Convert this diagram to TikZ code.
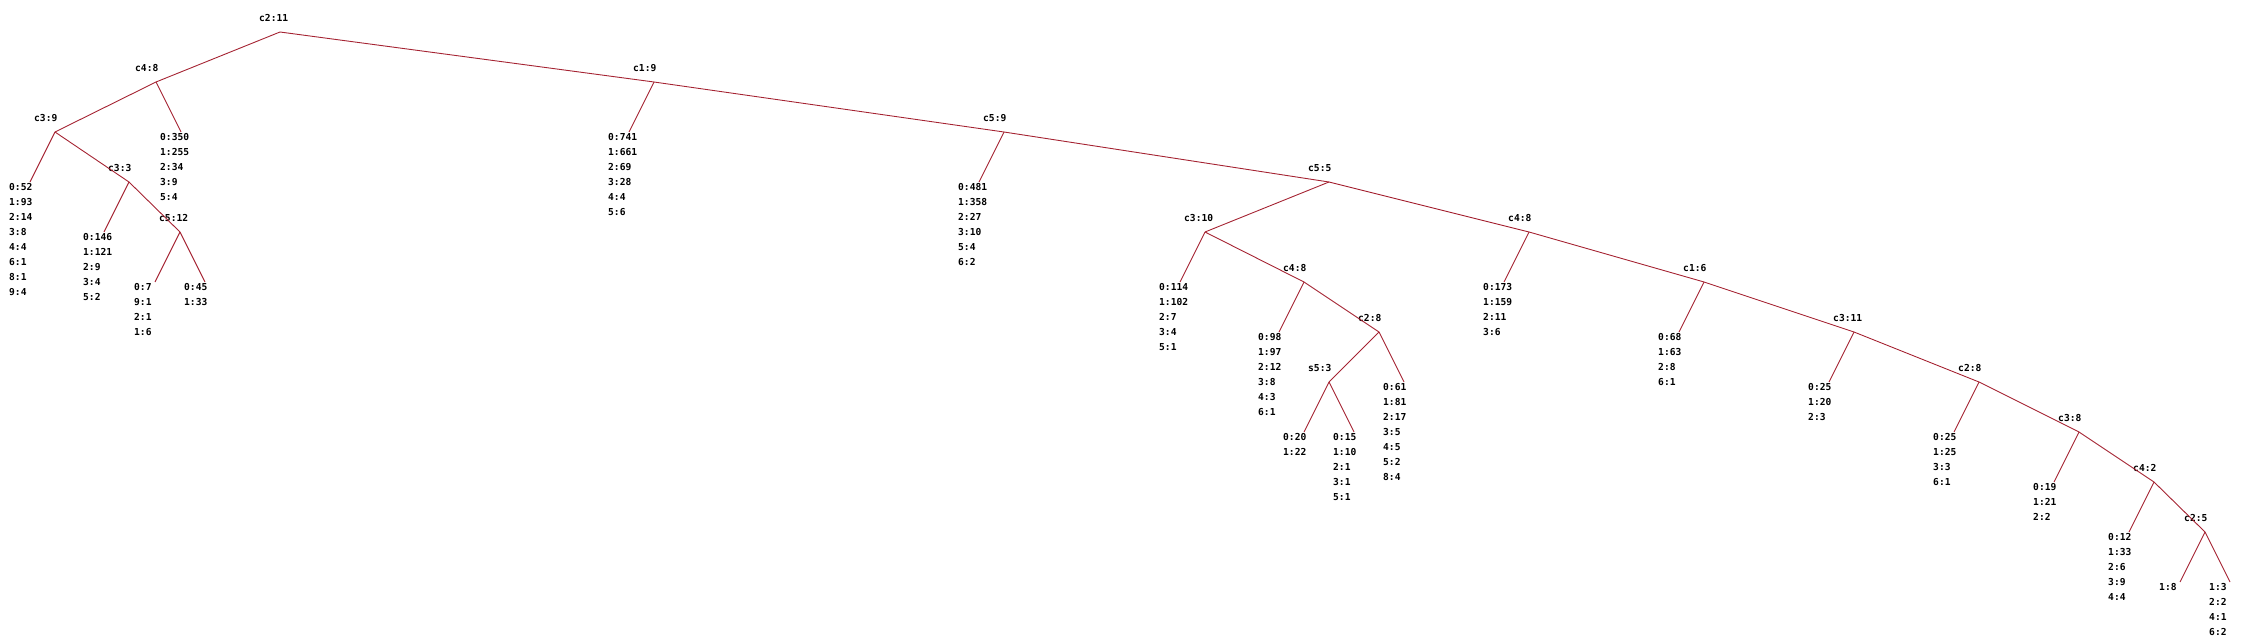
\documentclass[tikz,border=0pt]{standalone}
\usepackage{fontspec}
\newfontfamily\treefont{DejaVu Sans Mono}
\usetikzlibrary{calc,positioning}
\definecolor{treered}{RGB}{165,35,50}
\tikzstyle{lbl}=[inner sep=0pt,anchor=base west,font=\treefont\bfseries\fontsize{9.6}{12}\selectfont]
\tikzstyle{link}=[treered,line width=0.9pt]
% split point with its label above
\newcommand{\tsplit}[3]{
	\coordinate (#1) at (#2);
	\node[lbl] (#1-t) at ([shift={(-21,10.5)}]#1) {#3};
}
% leaf: end point below a split, counts listed under it
\newcommand{\tleaf}[4]{
	\coordinate[below #2=50pt and 25pt of #3] (#1);
	\foreach \row [count=\i from 0] in {#4}{
		\node[lbl] (#1-\i) at ([shift={(-21,-8.5-15*\i)}]#1) {\row};
	}
}
\newcommand{\linkall}[1]{
	\foreach \a/\b in {#1}{
		\draw[link] (\a) -- (\b);
	}
}

\begin{document}
\begin{tikzpicture}[x=1pt,y=1pt]
\useasboundingbox (0,0) rectangle (2245,-644);
% left part
\tsplit{r}{280,-32}{c2:11}
\tsplit{a}{156,-82}{c4:8}
\tsplit{b}{55,-132}{c3:9}
\tsplit{c}{129,-182}{c3:3}
\tsplit{d}{180,-232}{c5:12}
\tleaf{l1}{left}{b}{0:52,1:93,2:14,3:8,4:4,6:1,8:1,9:4}
\tleaf{l2}{left}{c}{0:146,1:121,2:9,3:4,5:2}
\tleaf{l3}{left}{d}{0:7,9:1,2:1,1:6}
\tleaf{l4}{right}{d}{0:45,1:33}
\tleaf{l5}{right}{a}{0:350,1:255,2:34,3:9,5:4}
% right spine
\tsplit{e}{654,-82}{c1:9}
\tsplit{f}{1004,-132}{c5:9}
\tsplit{g}{1329,-182}{c5:5}
\tsplit{h}{1205,-232}{c3:10}
\tsplit{i}{1304,-282}{c4:8}
\tsplit{j}{1379,-332}{c2:8}
\tsplit{k}{1329,-382}{s5:3}
\tsplit{m}{1529,-232}{c4:8}
\tsplit{n}{1704,-282}{c1:6}
\tsplit{o}{1854,-332}{c3:11}
\tsplit{p}{1979,-382}{c2:8}
\tsplit{q}{2079,-432}{c3:8}
\tsplit{s}{2154,-482}{c4:2}
\tsplit{t}{2205,-532}{c2:5}
\tleaf{l6}{left}{e}{0:741,1:661,2:69,3:28,4:4,5:6}
\tleaf{l7}{left}{f}{0:481,1:358,2:27,3:10,5:4,6:2}
\tleaf{l8}{left}{h}{0:114,1:102,2:7,3:4,5:1}
\tleaf{l9}{left}{i}{0:98,1:97,2:12,3:8,4:3,6:1}
\tleaf{l10}{left}{k}{0:20,1:22}
\tleaf{l11}{right}{k}{0:15,1:10,2:1,3:1,5:1}
\tleaf{l12}{right}{j}{0:61,1:81,2:17,3:5,4:5,5:2,8:4}
\tleaf{l13}{left}{m}{0:173,1:159,2:11,3:6}
\tleaf{l14}{left}{n}{0:68,1:63,2:8,6:1}
\tleaf{l15}{left}{o}{0:25,1:20,2:3}
\tleaf{l16}{left}{p}{0:25,1:25,3:3,6:1}
\tleaf{l17}{left}{q}{0:19,1:21,2:2}
\tleaf{l18}{left}{s}{0:12,1:33,2:6,3:9,4:4}
\tleaf{l19}{left}{t}{1:8}
\tleaf{l20}{right}{t}{1:3,2:2,4:1,6:2}

\linkall{r/a,r/e,a/b,a/l5,b/l1,b/c,c/l2,c/d,d/l3,d/l4}
\linkall{e/l6,e/f,f/l7,f/g,g/h,g/m,h/l8,h/i,i/l9,i/j,j/k,j/l12,k/l10,k/l11}
\linkall{m/l13,m/n,n/l14,n/o,o/l15,o/p,p/l16,p/q,q/l17,q/s,s/l18,s/t,t/l19,t/l20}
\end{tikzpicture}
\end{document}
